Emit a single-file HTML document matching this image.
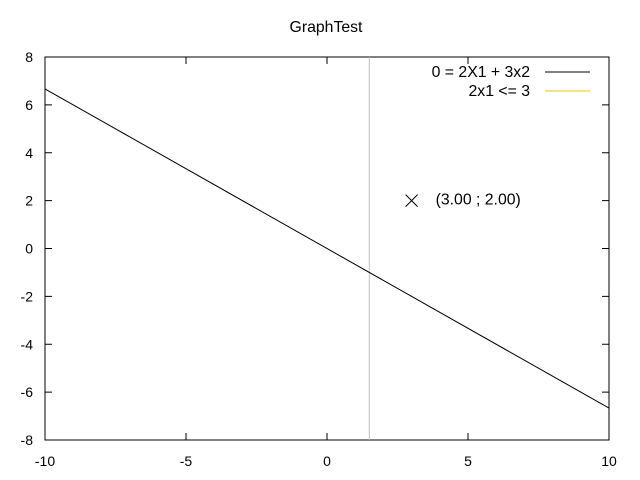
<!DOCTYPE html>
<html><head><meta charset="utf-8"><style>
body{margin:0;background:#fff;}
svg{display:block;font-family:"Liberation Sans",sans-serif;font-size:14px;}
.big{font-size:15.8px;}
</style></head><body>
<svg id="chart" width="640" height="480">
<text class="big" x="326" y="32" text-anchor="middle">GraphTest</text>
<g id="axes"></g>
<g id="series"></g>
<g>
<text class="big" x="530" y="77" text-anchor="end">0 = 2X1 + 3x2</text>
<line x1="545" y1="72" x2="590" y2="72" stroke="#000"/>
<text class="big" x="530" y="96" text-anchor="end">2x1 &lt;= 3</text>
<line x1="545" y1="91" x2="590" y2="91" stroke="#e6c800"/>
</g>
</svg>
<script>
const xTicks=[-10,-5,0,5,10];
const yTicks=[-8,-6,-4,-2,0,2,4,6,8];
const lineXs=[-10,10];
const lineCoefA=2, lineCoefB=3, lineC=0;
const constraintX=[1.5];
const pointX=[3], pointY=[2];
const pointLabels=["(3.00 ; 2.00)"];
const L=45,R=609,T=57,B=440;
const sx=v=>L+(v+10)/20*(R-L);
const sy=v=>B-(v+8)/16*(B-T);
const NS="http://www.w3.org/2000/svg";
function mk(tag,attrs,parent){const e=document.createElementNS(NS,tag);for(const k in attrs)e.setAttribute(k,attrs[k]);parent.appendChild(e);return e;}
const ax=document.getElementById('axes'),se=document.getElementById('series');
const frame=mk('rect',{x:L,y:T,width:R-L,height:B-T,fill:'none',stroke:'#000'},ax);


xTicks.forEach(v=>{const x=sx(v);
mk('line',{x1:x,y1:B,x2:x,y2:B-7,stroke:'#000'},ax);
mk('line',{x1:x,y1:T,x2:x,y2:T+7,stroke:'#000'},ax);
const t=mk('text',{x:x,y:B+26,'text-anchor':'middle'},ax);t.textContent=v;

});
yTicks.forEach(v=>{const y=sy(v);
mk('line',{x1:L,y1:y,x2:L+7,y2:y,stroke:'#000'},ax);
mk('line',{x1:R,y1:y,x2:R-7,y2:y,stroke:'#000'},ax);
const t=mk('text',{x:L-12,y:y+5,'text-anchor':'end'},ax);t.textContent=v;

});
constraintX.forEach(v=>{const l=mk('line',{x1:sx(v),y1:T,x2:sx(v),y2:B,stroke:'#c0c0c0'},se);

});
const yOf=x=>(lineC-lineCoefA*x)/lineCoefB;
const ln=mk('line',{x1:sx(lineXs[0]),y1:sy(yOf(lineXs[0])),x2:sx(lineXs[1]),y2:sy(yOf(lineXs[1])),stroke:'#000'},se);


pointX.forEach((px,i)=>{const x=sx(px),y=sy(pointY[i]);
const g=mk('g',{},se);


mk('path',{d:`M${x-6},${y-6}L${x+6},${y+6}M${x-6},${y+6}L${x+6},${y-6}`,stroke:'#000'},g);
const t=mk('text',{x:x+24,y:y+4,'class':'big'},se);t.textContent=pointLabels[i];

});
</script>
</body></html>
